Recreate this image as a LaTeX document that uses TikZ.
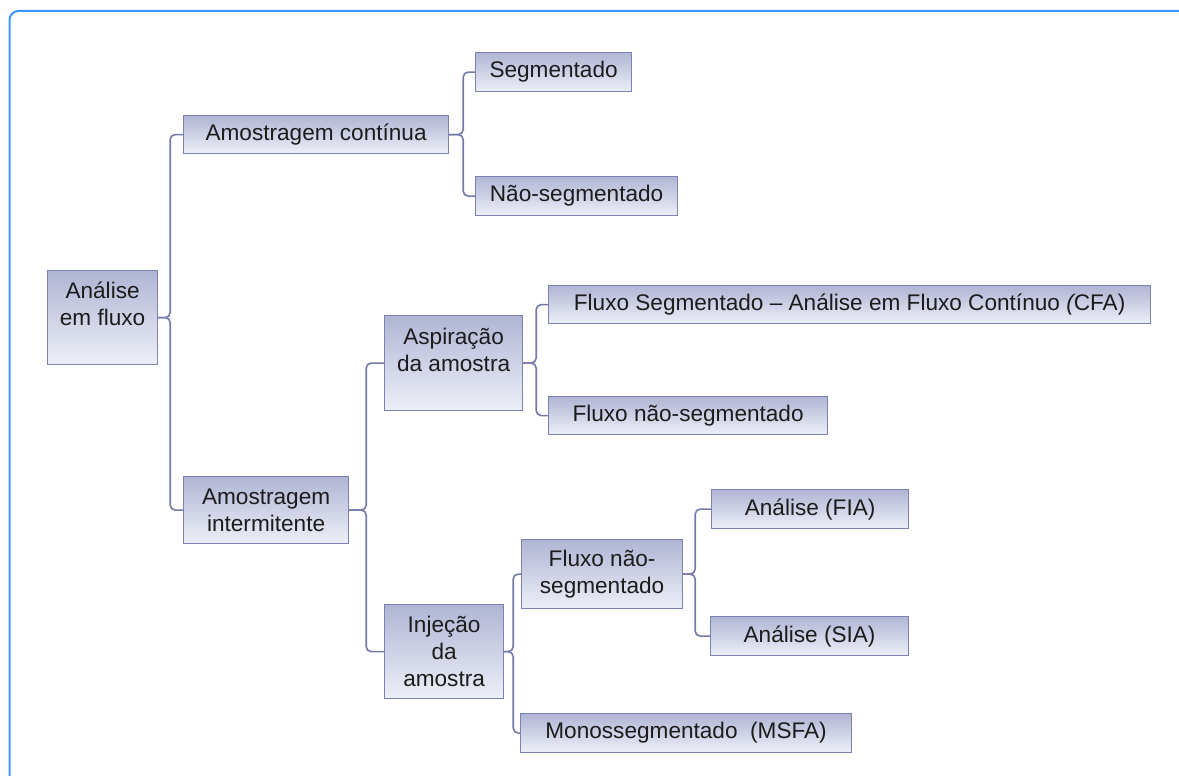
\documentclass[tikz,border=0pt]{standalone}
\usepackage{fontspec}
\setmainfont{Liberation Sans}
\usepackage{xcolor}
\usepackage{tikz}
\usetikzlibrary{positioning}

\definecolor{boxtop}{RGB}{176,181,212}
\definecolor{boxbot}{RGB}{237,239,247}
\definecolor{boxline}{RGB}{124,130,178}
\definecolor{linkline}{RGB}{116,121,168}
\definecolor{framecol}{RGB}{60,150,255}
\definecolor{txt}{RGB}{28,28,28}

\begin{document}
\begin{tikzpicture}
[x=1pt, y=-1pt, font=\fontsize{22.6}{27}\selectfont,
    every node/.style={top color=boxtop, bottom color=boxbot,
    rectangle, draw=boxline, line width=1.2pt, anchor=north west,
    align=center, text=txt, inner sep=0pt},
    link/.style={draw=linkline, line width=1.6pt, rounded corners=5pt}
    ]

    \clip (0,0) rectangle (1179,776);
    \draw[draw=framecol, line width=2pt, rounded corners=9pt]
        (9.5,900) -- (9.5,11) -- (1400,11);

    \node[minimum width=110pt, minimum height=94pt] (analise) at (47,270) {Análise\\em fluxo\\\phantom{x}};

    \node[minimum width=265pt, minimum height=38pt] (cont) at (183,115) {Amostragem contínua};
    \node[minimum width=156pt, minimum height=39pt] (seg) at (475,52) {Segmentado};
    \node[minimum width=202pt, minimum height=39pt] (nseg) at (475,176) {Não-segmentado};

    \node[minimum width=165pt, minimum height=67pt] (inter) at (183,476) {Amostragem\\intermitente};
    \node[minimum width=138pt, minimum height=95pt] (aspir) at (384,315) {Aspiração\\da amostra\\\phantom{x}};
    \node[minimum width=602pt, minimum height=38pt] (cfa) at (548,285) {Fluxo Segmentado -- Análise em Fluxo Contínuo {\itshape (}CFA)};
    \node[minimum width=279pt, minimum height=38pt] (fns) at (548,396) {Fluxo não-segmentado};

    \node[minimum width=119pt, minimum height=94pt] (inj) at (384,604) {Injeção\\da\\amostra};
    \node[minimum width=161pt, minimum height=69pt] (fns2) at (521,539) {Fluxo não-\\segmentado};
    \node[minimum width=197pt, minimum height=39pt] (fia) at (711,489) {Análise (FIA)};
    \node[minimum width=198pt, minimum height=39pt] (sia) at (710,616) {Análise (SIA)};
    \node[minimum width=331pt, minimum height=39pt] (msfa) at (520,713) {Monossegmentado\ \ (MSFA)};

    % connectors: stub out of the parent, trunk, then to each child
    \foreach \parent/\child/\stub in {analise/cont/12, analise/inter/12,
        cont/seg/14, cont/nseg/14, inter/aspir/17, inter/inj/17,
        aspir/cfa/13, aspir/fns/13, inj/fns2/9, inj/msfa/9,
        fns2/fia/12, fns2/sia/12}
        \draw[link] (\parent.east) -- ++(\stub,0) |- (\child.west);
\end{tikzpicture}
\end{document}
